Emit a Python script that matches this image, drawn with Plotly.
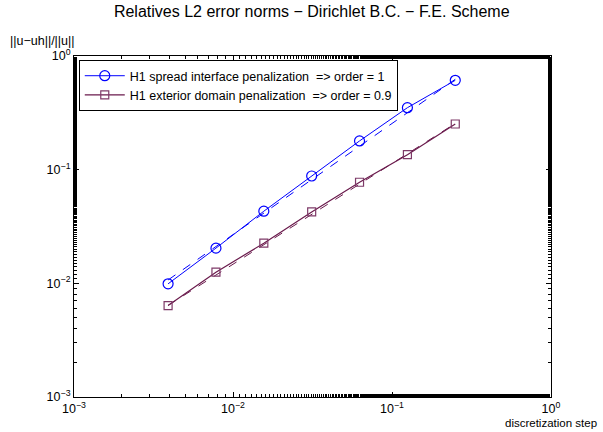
import plotly.graph_objects as go

# discretization steps h = 1/256 ... 1/4
h = [1/256, 1/128, 1/64, 1/32, 1/16, 1/8, 1/4]

# relative L2 errors
err_spread = [0.0099, 0.0204, 0.0431, 0.088, 0.179, 0.351, 0.611]
err_exterior = [0.00637, 0.01253, 0.02254, 0.04246, 0.0775, 0.1355, 0.2523]

# dashed reference (fitted) lines, end points only
fit_h = [1/256, 1/4]
fit_spread = [0.0107, 0.624]
fit_exterior = [0.0064, 0.255]

BLUE = "#0000ff"
PURPLE = "#6a1a4c"
FONT = "Liberation Sans, Arial, sans-serif"

decades = [1e-3, 1e-2, 1e-1, 1]
dec_text = ["10<sup>−3</sup>", "10<sup>−2</sup>", "10<sup>−1</sup>", "10<sup>0</sup>"]

fig = go.Figure()
fig.add_trace(go.Scatter(
    x=fit_h, y=fit_spread, mode="lines", showlegend=False,
    line=dict(color=BLUE, width=1, dash="dash"), hoverinfo="skip",
))
fig.add_trace(go.Scatter(
    x=fit_h, y=fit_exterior, mode="lines", showlegend=False,
    line=dict(color=PURPLE, width=1, dash="dash"), hoverinfo="skip",
))
fig.add_trace(go.Scatter(
    x=h, y=err_spread, mode="lines+markers",
    name="H1 spread interface penalization \u00a0=> order = 1",
    line=dict(color=BLUE, width=1),
    marker=dict(symbol="circle-open", size=10, color=BLUE, line=dict(width=1.2)),
))
fig.add_trace(go.Scatter(
    x=h, y=err_exterior, mode="lines+markers",
    name="H1 exterior domain penalization \u00a0=> order = 0.9",
    line=dict(color=PURPLE, width=1.2),
    marker=dict(symbol="square-open", size=8, color="#7e3a68", line=dict(width=1.2)),
))

axis_common = dict(
    type="log", showgrid=False, zeroline=False,
    showline=True, linecolor="black", linewidth=1, mirror="allticks",
    ticks="inside", ticklen=5, tickcolor="black", tickwidth=1,
    tickmode="array", tickvals=decades, ticktext=dec_text,
    tickfont=dict(size=12.5, color="black", family=FONT),
    minor=dict(ticks="inside", ticklen=3, tickcolor="black", tickwidth=1,
               showgrid=False),
)

fig.update_layout(
    width=603, height=432,
    paper_bgcolor="white", plot_bgcolor="white",
    font=dict(family=FONT, color="black", size=11),
    margin=dict(l=74, r=52, t=56, b=35, autoexpand=False),
    title=dict(text="Relatives L2 error norms − Dirichlet B.C. − F.E. Scheme",
               x=0.517, xanchor="center", y=0.974, yanchor="middle",
               font=dict(size=16, color="black", family=FONT)),
    xaxis=dict(range=[-3, 0], **axis_common),
    yaxis=dict(range=[-3, 0], **axis_common),
    legend=dict(x=0.01, y=0.988, xanchor="left", yanchor="top",
                bgcolor="white", bordercolor="black", borderwidth=1,
                font=dict(size=12.5, color="black", family=FONT),
                tracegroupgap=0, itemwidth=40),
    showlegend=True,
)

fig.add_annotation(text="||u−uh||/||u||", xref="paper", yref="paper",
                   x=-0.065, y=1.044, xanchor="center", yanchor="middle",
                   showarrow=False, font=dict(size=12.5, family=FONT))
fig.add_annotation(text="discretization step", xref="paper", yref="paper",
                   x=1.0, y=-0.076, xanchor="center", yanchor="middle",
                   showarrow=False, font=dict(size=11.5, family=FONT))

# drop the browser's default 8px body margin so the figure fills the window
fig.write_html("out.html", config={"displayModeBar": False},
               post_script="document.body.style.margin='0';")
